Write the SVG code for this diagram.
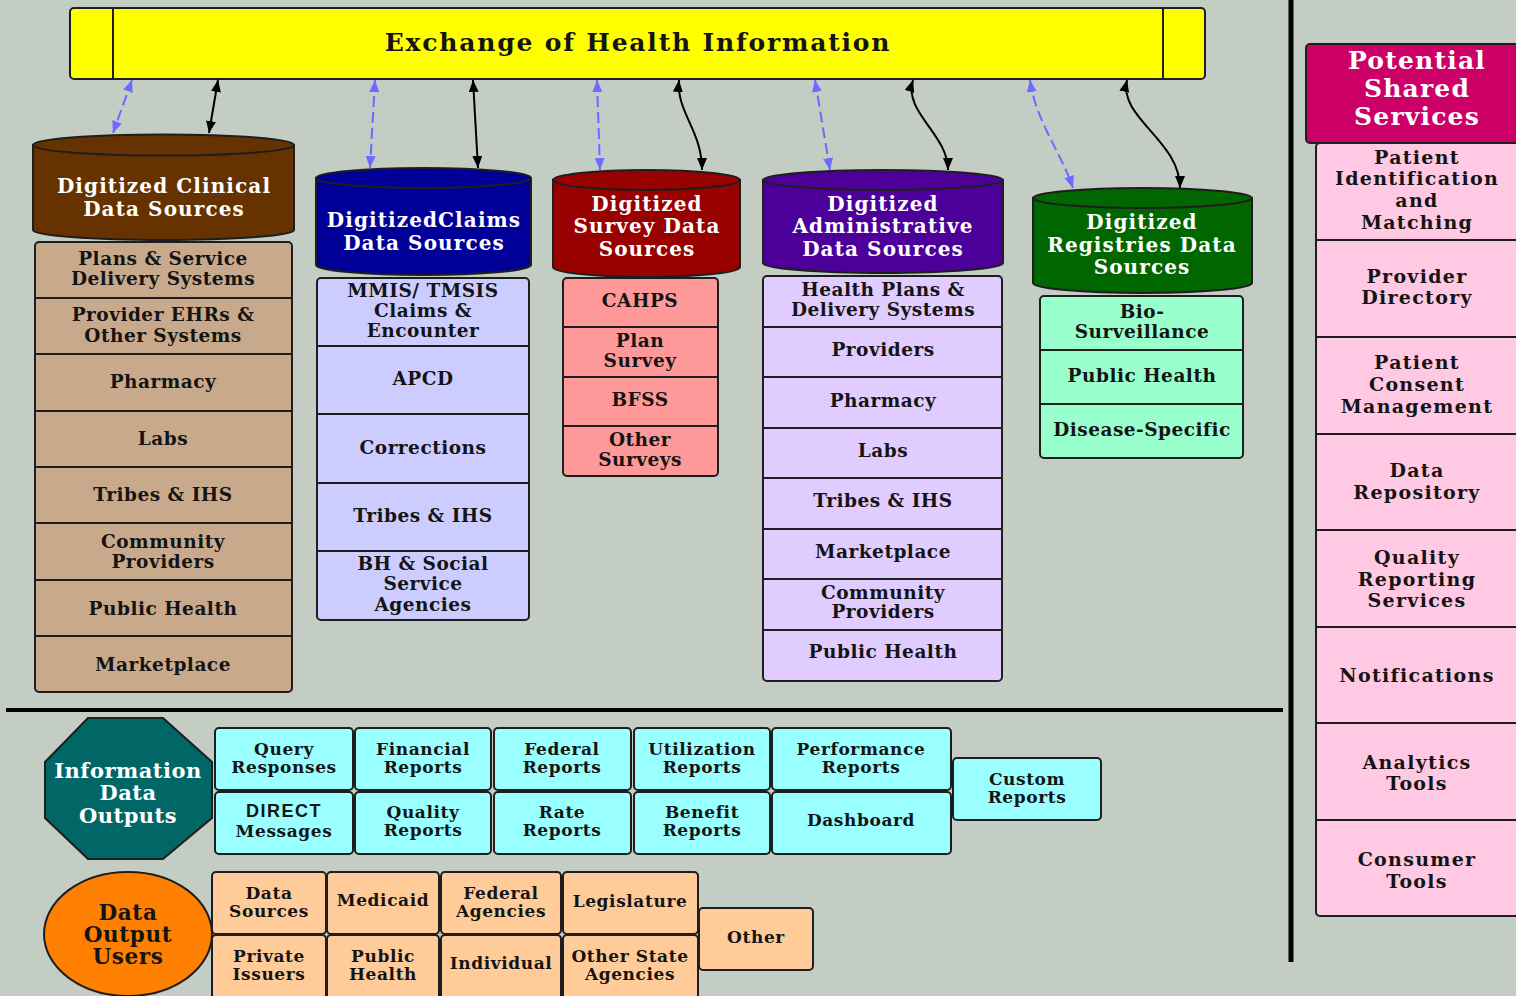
<svg xmlns="http://www.w3.org/2000/svg" width="1516" height="996" viewBox="0 0 1516 996">
  <style>
    .t { font-family: "DejaVu Serif", "Liberation Serif", serif; font-weight: bold; text-anchor: middle; fill: #141414; }
    .w { fill: #ffffff; }
    .f29 { font-size: 25px; letter-spacing: 1.8px; }
    .f28 { font-size: 25px; letter-spacing: 1.2px; }
    .f24 { font-size: 21.5px; letter-spacing: 0.6px; }
    .f23 { font-size: 20px; letter-spacing: 1.1px; }
    .f22 { font-size: 19px; letter-spacing: 1.3px; }
    .f21 { font-size: 21px; letter-spacing: 0.5px; }
    .f20 { font-size: 18.5px; letter-spacing: 0.5px; }
    .f18 { font-size: 17px; letter-spacing: 0.6px; }
    .sans { font-family: "Liberation Sans", Arial, sans-serif; font-size: 18px; letter-spacing: 1.5px; }
    .box { stroke: #1e1e1e; stroke-width: 2; }
    .div { stroke: #1e1e1e; stroke-width: 2; fill: none; }
    .blue { stroke: #6b6bff; stroke-width: 2; fill: none; stroke-dasharray: 11 5; marker-start: url(#ab); marker-end: url(#ab); }
    .black { stroke: #000; stroke-width: 2; fill: none; marker-start: url(#ak); marker-end: url(#ak); }
  </style>
  <defs>
    <marker id="ab" markerUnits="userSpaceOnUse" markerWidth="12" markerHeight="10" refX="12" refY="5" orient="auto-start-reverse">
      <path d="M0,0 L12,5 L0,10 Z" fill="#6b6bff"/>
    </marker>
    <marker id="ak" markerUnits="userSpaceOnUse" markerWidth="12" markerHeight="10" refX="12" refY="5" orient="auto-start-reverse">
      <path d="M0,0 L12,5 L0,10 Z" fill="#000"/>
    </marker>
  </defs>

  <!-- background -->
  <rect x="0" y="0" width="1516" height="996" fill="#c3cdc4"/>

  <!-- section dividers -->
  <line x1="6" y1="710" x2="1283" y2="710" stroke="#000" stroke-width="4"/>
  <line x1="1291" y1="0" x2="1291" y2="962" stroke="#000" stroke-width="5"/>

  <!-- exchange bar -->
  <g id="exchange">
    <rect class="box" x="70" y="8" width="1135" height="71" rx="4" fill="#ffff00"/>
    <line class="div" x1="113" y1="8" x2="113" y2="79"/>
    <line class="div" x1="1163" y1="8" x2="1163" y2="79"/>
    <text class="t f29" x="638" y="51">Exchange of Health Information</text>
  </g>

  <!-- connectors -->
  <g id="connectors">
    <path class="blue" d="M132,80 L113,133"/>
    <path class="black" d="M218,80 L209,133"/>
    <path class="blue" d="M375,80 L370,168"/>
    <path class="black" d="M473,80 L478,168"/>
    <path class="blue" d="M597,80 L600,170"/>
    <path class="black" d="M679,80 C676,112 702,130 702,170"/>
    <path class="blue" d="M815,80 L830,170"/>
    <path class="black" d="M913,80 C903,112 948,134 948,170"/>
    <path class="blue" d="M1030,80 C1036,122 1060,150 1073,188"/>
    <path class="black" d="M1127,80 C1118,118 1180,140 1180,188"/>
  </g>

  <!-- clinical sources -->
  <g id="clinical">
    <path class="box" fill="#663300" d="M33,145 L33,230 A130.5,10 0 0 0 294,230 L294,145 Z"/>
    <ellipse class="box" cx="163.5" cy="145" rx="130.5" ry="10.5" fill="#663300"/>
    <text class="t w f23" x="164" y="193">Digitized Clinical</text>
    <text class="t w f23" x="164" y="216">Data Sources</text>
    <rect class="box" x="35" y="242" width="257" height="450" rx="4" fill="#c9a98b"/>
    <path class="div" d="M35,298 H292 M35,354 H292 M35,411 H292 M35,467 H292 M35,523 H292 M35,580 H292 M35,636 H292"/>
    <text class="t f20" x="163" y="265">Plans &amp; Service</text>
    <text class="t f20" x="163" y="285">Delivery Systems</text>
    <text class="t f20" x="163" y="321">Provider EHRs &amp;</text>
    <text class="t f20" x="163" y="342">Other Systems</text>
    <text class="t f20" x="163" y="388">Pharmacy</text>
    <text class="t f20" x="163" y="445">Labs</text>
    <text class="t f20" x="163" y="501">Tribes &amp; IHS</text>
    <text class="t f20" x="163" y="548">Community</text>
    <text class="t f20" x="163" y="568">Providers</text>
    <text class="t f20" x="163" y="615">Public Health</text>
    <text class="t f20" x="163" y="671">Marketplace</text>
  </g>

  <!-- claims sources -->
  <g id="claims">
    <path class="box" fill="#000099" d="M316,178 L316,265 A107.5,10 0 0 0 531,265 L531,178 Z"/>
    <ellipse class="box" cx="423.5" cy="178" rx="107.5" ry="10" fill="#000099"/>
    <text class="t w f23" x="424" y="227">DigitizedClaims</text>
    <text class="t w f23" x="424" y="250">Data Sources</text>
    <rect class="box" x="317" y="278" width="212" height="342" rx="4" fill="#ccccff"/>
    <path class="div" d="M317,346 H529 M317,414 H529 M317,483 H529 M317,551 H529"/>
    <text class="t f20" x="423" y="297">MMIS/ TMSIS</text>
    <text class="t f20" x="423" y="317">Claims &amp;</text>
    <text class="t f20" x="423" y="337">Encounter</text>
    <text class="t f20" x="423" y="385">APCD</text>
    <text class="t f20" x="423" y="454">Corrections</text>
    <text class="t f20" x="423" y="522">Tribes &amp; IHS</text>
    <text class="t f20" x="423" y="570">BH &amp; Social</text>
    <text class="t f20" x="423" y="590">Service</text>
    <text class="t f20" x="423" y="611">Agencies</text>
  </g>

  <!-- survey sources -->
  <g id="survey">
    <path class="box" fill="#990000" d="M553,180 L553,267 A93.5,10 0 0 0 740,267 L740,180 Z"/>
    <ellipse class="box" cx="646.5" cy="180" rx="93.5" ry="10" fill="#990000"/>
    <text class="t w f23" x="647" y="210.5">Digitized</text>
    <text class="t w f23" x="647" y="233">Survey Data</text>
    <text class="t w f23" x="647" y="255.5">Sources</text>
    <rect class="box" x="563" y="278" width="155" height="198" rx="4" fill="#ff9999"/>
    <path class="div" d="M563,327 H718 M563,377 H718 M563,426 H718"/>
    <text class="t f20" x="640" y="307">CAHPS</text>
    <text class="t f20" x="640" y="347">Plan</text>
    <text class="t f20" x="640" y="367">Survey</text>
    <text class="t f20" x="640" y="406">BFSS</text>
    <text class="t f20" x="640" y="446">Other</text>
    <text class="t f20" x="640" y="466">Surveys</text>
  </g>

  <!-- administrative sources -->
  <g id="administrative">
    <path class="box" fill="#4c0099" d="M763,180 L763,263 A120,10 0 0 0 1003,263 L1003,180 Z"/>
    <ellipse class="box" cx="883" cy="180" rx="120" ry="10" fill="#4c0099"/>
    <text class="t w f23" x="883" y="210.5">Digitized</text>
    <text class="t w f23" x="883" y="233">Administrative</text>
    <text class="t w f23" x="883" y="255.5">Data Sources</text>
    <rect class="box" x="763" y="276" width="239" height="405" rx="4" fill="#e0ccff"/>
    <path class="div" d="M763,327 H1002 M763,377 H1002 M763,428 H1002 M763,478 H1002 M763,529 H1002 M763,579 H1002 M763,630 H1002"/>
    <text class="t f20" x="883" y="296">Health Plans &amp;</text>
    <text class="t f20" x="883" y="316">Delivery Systems</text>
    <text class="t f20" x="883" y="356">Providers</text>
    <text class="t f20" x="883" y="407">Pharmacy</text>
    <text class="t f20" x="883" y="457">Labs</text>
    <text class="t f20" x="883" y="507">Tribes &amp; IHS</text>
    <text class="t f20" x="883" y="558">Marketplace</text>
    <text class="t f20" x="883" y="599">Community</text>
    <text class="t f20" x="883" y="618">Providers</text>
    <text class="t f20" x="883" y="658">Public Health</text>
  </g>

  <!-- registries sources -->
  <g id="registries">
    <path class="box" fill="#006600" d="M1033,198 L1033,283 A109.5,10 0 0 0 1252,283 L1252,198 Z"/>
    <ellipse class="box" cx="1142.5" cy="198" rx="109.5" ry="10" fill="#006600"/>
    <text class="t w f23" x="1142" y="229">Digitized</text>
    <text class="t w f23" x="1142" y="251.5">Registries Data</text>
    <text class="t w f23" x="1142" y="274">Sources</text>
    <rect class="box" x="1040" y="296" width="203" height="162" rx="4" fill="#99ffcc"/>
    <path class="div" d="M1040,350 H1243 M1040,404 H1243"/>
    <text class="t f20" x="1142" y="318">Bio-</text>
    <text class="t f20" x="1142" y="338">Surveillance</text>
    <text class="t f20" x="1142" y="382">Public Health</text>
    <text class="t f20" x="1142" y="436">Disease-Specific</text>
  </g>

  <!-- shared services -->
  <g id="shared-services">
    <rect class="box" x="1306" y="44" width="222" height="99" rx="4" fill="#cc0066"/>
    <text class="t w f28" x="1417" y="69">Potential</text>
    <text class="t w f28" x="1417" y="97">Shared</text>
    <text class="t w f28" x="1417" y="125">Services</text>
    <rect class="box" x="1316" y="143" width="212" height="773" rx="4" fill="#ffc8e3"/>
    <path class="div" d="M1316,240 H1528 M1316,337 H1528 M1316,434 H1528 M1316,530 H1528 M1316,627 H1528 M1316,723 H1528 M1316,820 H1528"/>
    <text class="t f22" x="1417" y="164">Patient</text>
    <text class="t f22" x="1417" y="185">Identification</text>
    <text class="t f22" x="1417" y="207">and</text>
    <text class="t f22" x="1417" y="229">Matching</text>
    <text class="t f22" x="1417" y="283">Provider</text>
    <text class="t f22" x="1417" y="304">Directory</text>
    <text class="t f22" x="1417" y="369">Patient</text>
    <text class="t f22" x="1417" y="391">Consent</text>
    <text class="t f22" x="1417" y="413">Management</text>
    <text class="t f22" x="1417" y="477">Data</text>
    <text class="t f22" x="1417" y="499">Repository</text>
    <text class="t f22" x="1417" y="564">Quality</text>
    <text class="t f22" x="1417" y="586">Reporting</text>
    <text class="t f22" x="1417" y="607">Services</text>
    <text class="t f22" x="1417" y="682">Notifications</text>
    <text class="t f22" x="1417" y="769">Analytics</text>
    <text class="t f22" x="1417" y="790">Tools</text>
    <text class="t f22" x="1417" y="866">Consumer</text>
    <text class="t f22" x="1417" y="888">Tools</text>
  </g>

  <!-- information data outputs -->
  <g id="outputs">
    <polygon class="box" fill="#006666" points="88,718 163,718 212,762 212,818 163,859 88,859 45,818 45,762"/>
    <text class="t w f21" x="128" y="778">Information</text>
    <text class="t w f21" x="128" y="800">Data</text>
    <text class="t w f21" x="128" y="823">Outputs</text>
  </g>
  <g id="output-types">
    <rect class="box" x="215" y="728" width="138" height="62" rx="4" fill="#99ffff"/>
    <rect class="box" x="355" y="728" width="136" height="62" rx="4" fill="#99ffff"/>
    <rect class="box" x="494" y="728" width="137" height="62" rx="4" fill="#99ffff"/>
    <rect class="box" x="634" y="728" width="136" height="62" rx="4" fill="#99ffff"/>
    <rect class="box" x="772" y="728" width="179" height="62" rx="4" fill="#99ffff"/>
    <rect class="box" x="215" y="792" width="138" height="62" rx="4" fill="#99ffff"/>
    <rect class="box" x="355" y="792" width="136" height="62" rx="4" fill="#99ffff"/>
    <rect class="box" x="494" y="792" width="137" height="62" rx="4" fill="#99ffff"/>
    <rect class="box" x="634" y="792" width="136" height="62" rx="4" fill="#99ffff"/>
    <rect class="box" x="772" y="792" width="179" height="62" rx="4" fill="#99ffff"/>
    <rect class="box" x="953" y="758" width="148" height="62" rx="4" fill="#99ffff"/>
    <text class="t f18" x="284" y="755">Query</text>
    <text class="t f18" x="284" y="773">Responses</text>
    <text class="t f18" x="423" y="755">Financial</text>
    <text class="t f18" x="423" y="773">Reports</text>
    <text class="t f18" x="562" y="755">Federal</text>
    <text class="t f18" x="562" y="773">Reports</text>
    <text class="t f18" x="702" y="755">Utilization</text>
    <text class="t f18" x="702" y="773">Reports</text>
    <text class="t f18" x="861" y="755">Performance</text>
    <text class="t f18" x="861" y="773">Reports</text>
    <text class="t sans" x="284" y="817">DIRECT</text>
    <text class="t f18" x="284" y="837">Messages</text>
    <text class="t f18" x="423" y="818">Quality</text>
    <text class="t f18" x="423" y="836">Reports</text>
    <text class="t f18" x="562" y="818">Rate</text>
    <text class="t f18" x="562" y="836">Reports</text>
    <text class="t f18" x="702" y="818">Benefit</text>
    <text class="t f18" x="702" y="836">Reports</text>
    <text class="t f18" x="861" y="826">Dashboard</text>
    <text class="t f18" x="1027" y="785">Custom</text>
    <text class="t f18" x="1027" y="803">Reports</text>
  </g>

  <!-- data output users -->
  <g id="users">
    <ellipse class="box" cx="128" cy="934" rx="84" ry="62" fill="#ff8000"/>
    <text class="t f24" x="128" y="920">Data</text>
    <text class="t f24" x="128" y="942">Output</text>
    <text class="t f24" x="128" y="964">Users</text>
  </g>
  <g id="user-types">
    <rect class="box" x="212" y="872" width="114" height="62" rx="4" fill="#ffcc99"/>
    <rect class="box" x="327" y="872" width="112" height="62" rx="4" fill="#ffcc99"/>
    <rect class="box" x="441" y="872" width="120" height="62" rx="4" fill="#ffcc99"/>
    <rect class="box" x="563" y="872" width="135" height="62" rx="4" fill="#ffcc99"/>
    <rect class="box" x="212" y="935" width="114" height="66" rx="4" fill="#ffcc99"/>
    <rect class="box" x="327" y="935" width="112" height="66" rx="4" fill="#ffcc99"/>
    <rect class="box" x="441" y="935" width="120" height="66" rx="4" fill="#ffcc99"/>
    <rect class="box" x="563" y="935" width="135" height="66" rx="4" fill="#ffcc99"/>
    <rect class="box" x="699" y="908" width="114" height="62" rx="4" fill="#ffcc99"/>
    <text class="t f18" x="269" y="899">Data</text>
    <text class="t f18" x="269" y="917">Sources</text>
    <text class="t f18" x="383" y="906">Medicaid</text>
    <text class="t f18" x="501" y="899">Federal</text>
    <text class="t f18" x="501" y="917">Agencies</text>
    <text class="t f18" x="630" y="907">Legislature</text>
    <text class="t f18" x="269" y="962">Private</text>
    <text class="t f18" x="269" y="980">Issuers</text>
    <text class="t f18" x="383" y="962">Public</text>
    <text class="t f18" x="383" y="980">Health</text>
    <text class="t f18" x="501" y="969">Individual</text>
    <text class="t f18" x="630" y="962">Other State</text>
    <text class="t f18" x="630" y="980">Agencies</text>
    <text class="t f18" x="756" y="943">Other</text>
  </g>
</svg>
